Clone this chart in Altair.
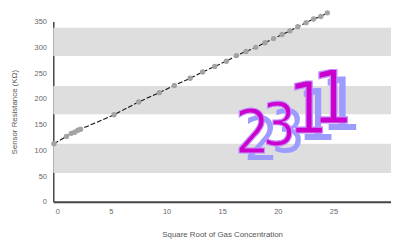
import altair as alt
import pandas as pd

# data points (sqrt of gas concentration, sensor resistance kOhm)
x_vals = [0.06, 1.18, 1.62, 1.92, 2.21, 2.45, 5.46, 7.67, 9.53, 10.88, 12.30, 13.42,
          14.51, 15.55, 16.46, 17.32, 18.20, 19.03, 19.80, 20.56, 21.27, 21.97,
          22.72, 23.39, 24.04, 24.63]
y_vals = [113, 127, 133, 135, 139, 141, 169, 194, 212, 226, 240, 252,
          263, 273, 284, 292, 300, 309, 317, 325, 332, 340,
          348, 355, 360, 367]

# shaded horizontal bands
band_lo = [56, 170, 283]
band_hi = [113, 225, 338]

x_ticks = [0, 5, 10, 15, 20, 25]
y_ticks = [0, 50, 100, 150, 200, 250, 300, 350]

# watermark digits
wm_chars = ["2", "3", "1", "1"]
wm_x = [17.9, 20.3, 22.9, 25.1]
wm_y = [94, 110, 134, 153]
wm_size = [62, 60, 72, 74]

pts = pd.DataFrame({"x": x_vals, "y": y_vals})
bands = pd.DataFrame({"lo": band_lo, "hi": band_hi})
wm = pd.DataFrame({"c": wm_chars, "x": wm_x, "y": wm_y, "s": wm_size})

xs = alt.Scale(domain=[0, 30.35], nice=False, zero=False)
ys = alt.Scale(domain=[0, 350], nice=False)

font = "Liberation Sans"
narrow = "Liberation Sans Narrow, DejaVu Sans Condensed, Roboto Condensed, sans-serif"

x_axis = alt.Axis(values=x_ticks, title="Square Root of Gas Concentration", grid=False,
                  ticks=False, labelPadding=6, labelOffset=2, labelFontSize=7.5,
                  labelColor="#666666", titleFontSize=8, titleColor="#555555",
                  titleFontWeight="normal", titlePadding=16, domainColor="#444444",
                  domainWidth=2, labelFont=font, titleFont=font, labelOverlap=False)
y_axis = alt.Axis(values=y_ticks, title="Sensor Resistance (KΩ)", grid=False,
                  ticks=False, labelPadding=7, labelFontSize=7.5, labelColor="#666666",
                  titleFontSize=8, titleColor="#555555", titleFontWeight="normal",
                  titlePadding=16, domainColor="#444444", domainWidth=1.5,
                  labelFont=font, titleFont=font, labelOverlap=False)

X = lambda f: alt.X(f, scale=xs, axis=x_axis)
Y = lambda f: alt.Y(f, scale=ys, axis=y_axis)

band_layer = alt.Chart(bands).mark_rect(color="#dedede").encode(
    x=alt.value(0), x2=alt.value(343),
    y=Y("lo:Q"), y2="hi:Q",
)

line_layer = alt.Chart(pts).mark_line(color="#111111", strokeWidth=1.1,
                                      strokeDash=[5, 2]).encode(
    x=X("x:Q"), y=Y("y:Q"),
)

pt_layer = alt.Chart(pts).mark_circle(color="#a3a3a3", opacity=1, size=30).encode(
    x=X("x:Q"), y=Y("y:Q"),
)

shadow = alt.Chart(wm).mark_text(color="#9c9cff", font=narrow,
                                 align="center", baseline="alphabetic",
                                 dx=9, dy=7).encode(
    x=X("x:Q"), y=Y("y:Q"),
    text="c:N", size=alt.Size("s:Q", scale=None, legend=None),
)

front = alt.Chart(wm).mark_text(color="#cc00cc", stroke="#c58cff", strokeWidth=1.2,
                                font=narrow,
                                align="center", baseline="alphabetic").encode(
    x=X("x:Q"), y=Y("y:Q"),
    text="c:N", size=alt.Size("s:Q", scale=None, legend=None),
)

chart = alt.layer(band_layer, line_layer, pt_layer, shadow, front).properties(
    width=343, height=183,
    autosize=alt.AutoSizeParams(type="none"),
    padding={"left": 46, "top": 12, "right": 0, "bottom": 39},
    background="white",
).configure_view(stroke=None)

chart.save("out.html", embed_options={"renderer": "svg", "actions": False})
